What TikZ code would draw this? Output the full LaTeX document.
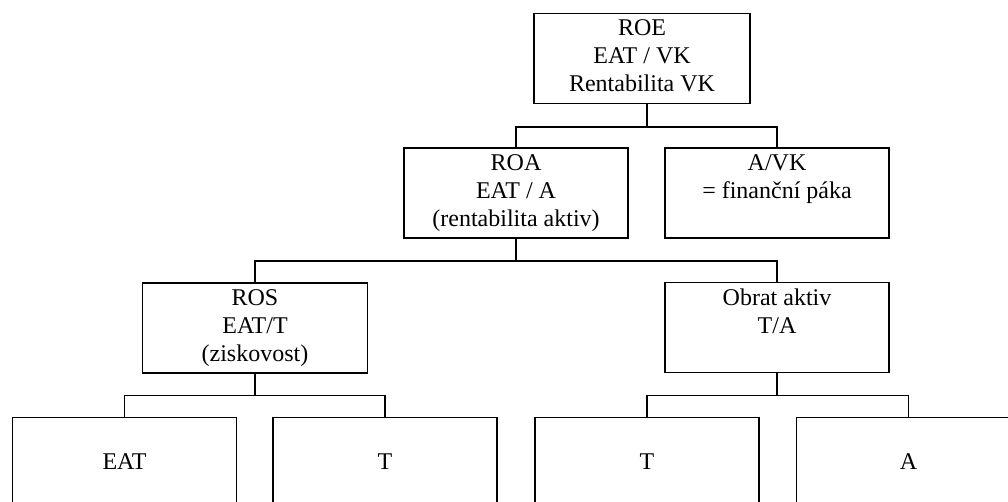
\documentclass[tikz,border=0pt]{standalone}
\usepackage{fontspec}
\setmainfont{Liberation Serif}
\tikzset{
  box/.style={draw, line width=1.4pt, inner sep=0pt, align=center,
    font=\fontsize{24}{28}\selectfont},
  link/.style={line width=1.4pt},
}
\begin{document}
\begin{tikzpicture}[x=1pt,y=-1pt]
\useasboundingbox (0,0) rectangle (1008,502);
\clip (0,0) rectangle (1008,502);
% top
\node[box, minimum width=216pt, minimum height=90pt] (roe) at (642,58.3)
  {\strut ROE\\\strut EAT / VK\\\strut Rentabilita VK};
% second row
\node[box, minimum width=224pt, minimum height=90pt] (roa) at (516,193)
  {\strut ROA\\\strut EAT / A\\\strut (rentabilita aktiv)};
\node[box, minimum width=224pt, minimum height=90pt] (avk) at (777,193)
  {\strut A/VK\\\strut = finanční páka\\\strut};
% third row
\node[box, minimum width=225pt, minimum height=90pt] (ros) at (255,328)
  {\strut ROS\\\strut EAT/T\\\strut (ziskovost)};
\node[box, minimum width=224pt, minimum height=90pt] (obr) at (777,327.7)
  {\strut Obrat aktiv\\\strut T/A\\\strut};
% bottom row
\node[box, minimum width=224pt, minimum height=88pt] (b1) at (124.5,461.7) {EAT};
\node[box, minimum width=224pt, minimum height=88pt] (b2) at (385,461.7) {T};
\node[box, minimum width=224pt, minimum height=88pt] (b3) at (647,461.7) {T};
\node[box, minimum width=224pt, minimum height=88pt] (b4) at (908.5,461.7) {A};
% junctions
\coordinate (j1) at (647,127);
\coordinate (j2) at (516,261);
\coordinate (j3) at (255,395.7);
\coordinate (j4) at (777,395.7);
% connectors
\draw[link] (roe.south -| j1) -- (j1);
\draw[link] (roa.north) |- (j1) -| (avk.north);
\draw[link] (roa.south) -- (j2);
\draw[link] (ros.north) |- (j2) -| (obr.north);
\draw[link] (ros.south) -- (j3);
\draw[link] (b1.north) |- (j3) -| (b2.north);
\draw[link] (obr.south) -- (j4);
\draw[link] (b3.north) |- (j4) -| (b4.north);
\end{tikzpicture}
\end{document}
